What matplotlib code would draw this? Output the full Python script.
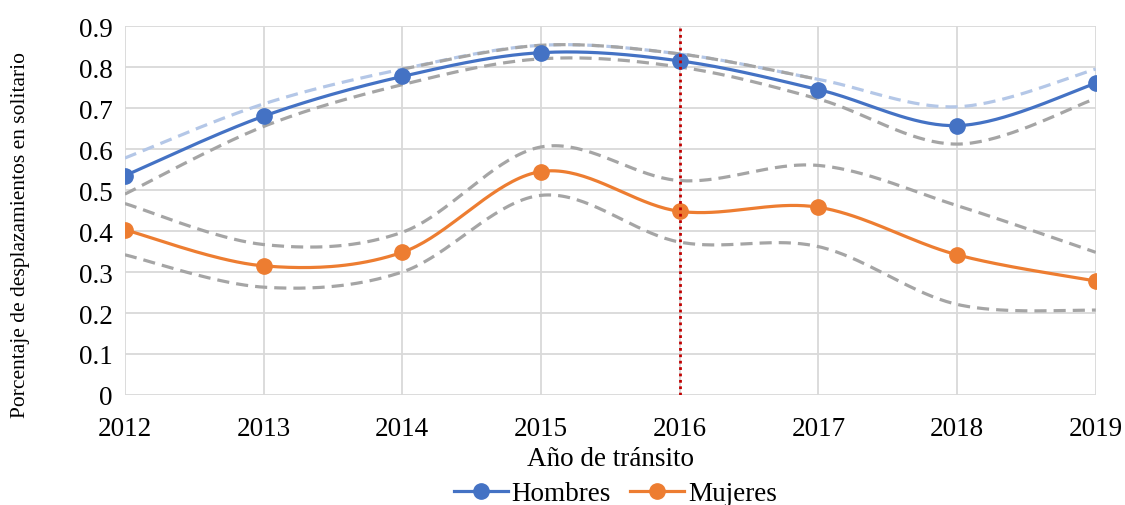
import numpy as np
import matplotlib
matplotlib.use("Agg")
import matplotlib.pyplot as plt

years = [2012, 2013, 2014, 2015, 2016, 2017, 2018, 2019]

hombres = [0.535, 0.680, 0.777, 0.835, 0.815, 0.745, 0.657, 0.760]
hombres_hi = [0.578, 0.710, 0.795, 0.853, 0.832, 0.770, 0.703, 0.795]
hombres_lo = [0.490, 0.655, 0.757, 0.820, 0.800, 0.722, 0.612, 0.723]

mujeres = [0.403, 0.315, 0.348, 0.545, 0.448, 0.458, 0.342, 0.278]
mujeres_hi = [0.467, 0.367, 0.397, 0.605, 0.523, 0.560, 0.462, 0.348]
mujeres_lo = [0.342, 0.263, 0.300, 0.487, 0.373, 0.362, 0.221, 0.207]

yticks = [0, 0.1, 0.2, 0.3, 0.4, 0.5, 0.6, 0.7, 0.8, 0.9]
ytick_labels = ["0", "0.1", "0.2", "0.3", "0.4", "0.5", "0.6", "0.7", "0.8", "0.9"]
cutoff_year = 2016


# Excel-style smoothed line: Catmull-Rom through the points.
def smooth(x, y, n=40):
    x = np.asarray(x, float)
    y = np.asarray(y, float)
    px = np.concatenate([[x[0]], x, [x[-1]]])
    py = np.concatenate([[y[0]], y, [y[-1]]])
    xs, ys = [], []
    t = np.linspace(0, 1, n)
    for i in range(1, len(px) - 2):
        for p, out in ((px, xs), (py, ys)):
            p0, p1, p2, p3 = p[i - 1], p[i], p[i + 1], p[i + 2]
            c1 = p1 + (p2 - p0) / 6
            c2 = p2 - (p3 - p1) / 6
            out.append((1 - t) ** 3 * p1 + 3 * (1 - t) ** 2 * t * c1
                       + 3 * (1 - t) * t ** 2 * c2 + t ** 3 * p2)
    return np.concatenate(xs), np.concatenate(ys)


plt.rcParams["font.family"] = ["Liberation Serif", "DejaVu Serif"]

fig = plt.figure(figsize=(11.25, 5.06), dpi=100)
ax = fig.add_axes([0.111, 0.2174, 0.863, 0.7292])

BLUE = "#4472C4"
ORANGE = "#ED7D31"
GRAY = "#A5A5A5"
LBLUE = "#B4C7E7"
dash = (0, (3.8, 2.2))

# confidence bands
ax.plot(*smooth(years, hombres_hi), color=LBLUE, lw=2.3, ls=dash, zorder=2)
ax.plot(*smooth(years[2:6], hombres_hi[2:6]), color=GRAY, lw=2.3, ls=dash, zorder=2)
ax.plot(*smooth(years, hombres_lo), color=GRAY, lw=2.3, ls=dash, zorder=2)
ax.plot(*smooth(years, mujeres_hi), color=GRAY, lw=2.3, ls=dash, zorder=2)
ax.plot(*smooth(years, mujeres_lo), color=GRAY, lw=2.3, ls=dash, zorder=2)

# main series
ax.plot(*smooth(years, hombres), color=BLUE, lw=2.3, zorder=3)
ax.plot(years, hombres, "o", color=BLUE, ms=11, zorder=4)
ax.plot(*smooth(years, mujeres), color=ORANGE, lw=2.3, zorder=3)
ax.plot(years, mujeres, "o", color=ORANGE, ms=11, zorder=4)

ax.axvline(cutoff_year, color="#C00000", lw=2, ls=(0, (1, 1.3)), zorder=5)

ax.set_xlim(years[0], years[-1])
ax.set_ylim(0, 0.9)
ax.set_xticks(years)
ax.set_xticklabels([str(y) for y in years], fontsize=19.5)
ax.set_yticks(yticks)
ax.set_yticklabels(ytick_labels, fontsize=19.5)
ax.tick_params(axis="x", length=0, pad=15)
ax.tick_params(axis="y", length=0, pad=9)
ax.grid(True, color="#D9D9D9", lw=1.3, zorder=0)
ax.set_axisbelow(True)
for s in ax.spines.values():
    s.set_visible(False)

ax.set_xlabel("Año de tránsito", fontsize=19.5, labelpad=4)
ax.set_ylabel("Porcentaje de desplazamientos en solitario", fontsize=15.5)
ax.yaxis.set_label_coords(-0.098, 0.436)

handles = [
    plt.Line2D([], [], color=BLUE, lw=2.3, marker="o", ms=11),
    plt.Line2D([], [], color=ORANGE, lw=2.3, marker="o", ms=11),
]
fig.legend(handles, ["Hombres", "Mujeres"], loc="center", bbox_to_anchor=(0.547, 0.022),
           ncol=2, frameon=False, fontsize=19.5, handlelength=2.0, handletextpad=0.15,
           columnspacing=0.7, borderpad=0)

fig.savefig("out.png", dpi=100)
